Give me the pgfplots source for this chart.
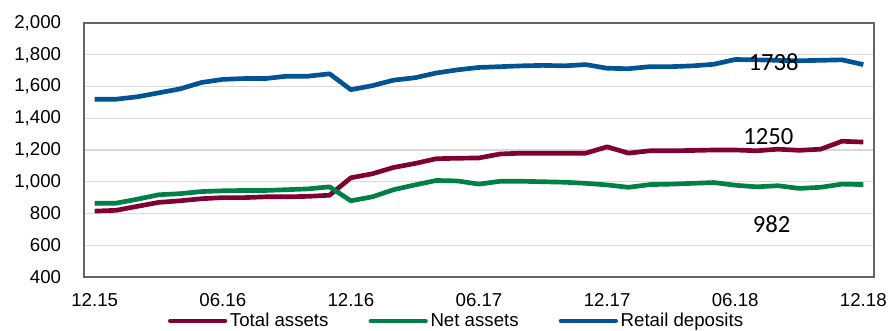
\documentclass[border=0pt]{standalone}
\usepackage{pgfplots}
\pgfplotsset{compat=1.18}
\usepackage{fontspec}
\setmainfont{Liberation Sans}
\newfontfamily\calibri{Carlito}
\definecolor{cTotal}{RGB}{128,0,50}
\definecolor{cNet}{RGB}{0,128,70}
\definecolor{cRetail}{RGB}{0,84,147}
\definecolor{cGrid}{RGB}{217,217,217}
\definecolor{cFrame}{RGB}{100,100,100}
\begin{document}
\begin{tikzpicture}
\useasboundingbox (-63pt,-40.5pt) rectangle (604.5pt,207.75pt);
\begin{axis}[
  at={(0,0)}, anchor=south west,
  scale only axis, width=592.5pt, height=190.5pt,
  xmin=-0.5, xmax=36.5, ymin=400, ymax=2000,
  xtick={0,6,...,36},
  xticklabels={12.15,06.16,12.16,06.17,12.17,06.18,12.18},
  ytick={400,600,...,2000},
  major tick length=0pt,
  ymajorgrids, grid style={cGrid, line width=1pt},
  axis line style={cFrame, line width=1.2pt},
  tick label style={font=\fontsize{14}{16}\selectfont},
  /pgf/number format/assume math mode=true,
  /pgf/number format/1000 sep={,},
  yticklabel style={anchor=east, inner sep=0pt, xshift=-17pt},
  xticklabel style={anchor=center, inner sep=0pt, yshift=-17pt},
  legend columns=3,
  legend style={draw=none, fill=none, at={(0.472,-0.173)}, anchor=center,
    font=\fontsize{14}{16}\selectfont, inner sep=0pt,
    /tikz/every even column/.append style={column sep=28pt}},
  legend image code/.code={\draw[#1, line cap=round] (0pt,0pt) -- (41pt,0pt);},
  every axis plot/.append style={line width=3.5pt, line join=round},
]
\addplot[cTotal] coordinates {
(0,815)(1,820)(2,845)(3,870)(4,880)(5,893)(6,900)(7,900)(8,905)(9,905)
(10,908)(11,915)(12,1025)(13,1050)(14,1090)(15,1115)(16,1145)(17,1148)(18,1150)(19,1175)
(20,1180)(21,1180)(22,1180)(23,1180)(24,1220)(25,1180)(26,1195)(27,1195)(28,1197)(29,1200)
(30,1200)(31,1195)(32,1205)(33,1198)(34,1205)(35,1255)(36,1250)};
\addlegendentry{Total assets}
\addplot[cNet] coordinates {
(0,865)(1,865)(2,890)(3,918)(4,925)(5,938)(6,943)(7,945)(8,945)(9,950)
(10,955)(11,968)(12,880)(13,905)(14,950)(15,980)(16,1008)(17,1005)(18,985)(19,1003)
(20,1003)(21,1000)(22,997)(23,990)(24,980)(25,965)(26,982)(27,985)(28,990)(29,995)
(30,978)(31,968)(32,975)(33,958)(34,965)(35,985)(36,982)};
\addlegendentry{Net assets}
\addplot[cRetail] coordinates {
(0,1520)(1,1520)(2,1535)(3,1560)(4,1585)(5,1625)(6,1645)(7,1650)(8,1650)(9,1665)
(10,1665)(11,1680)(12,1580)(13,1605)(14,1640)(15,1655)(16,1685)(17,1705)(18,1720)(19,1725)
(20,1730)(21,1733)(22,1730)(23,1738)(24,1715)(25,1712)(26,1725)(27,1725)(28,1730)(29,1740)
(30,1770)(31,1768)(32,1765)(33,1762)(34,1765)(35,1768)(36,1738)};
\addlegendentry{Retail deposits}
\node[font=\calibri\fontsize{18.5}{20}\selectfont] at (axis cs:31.8,1754) {1738};
\node[font=\calibri\fontsize{18.5}{20}\selectfont] at (axis cs:31.55,1282) {1250};
\node[font=\calibri\fontsize{18.5}{20}\selectfont] at (axis cs:31.7,734) {982};
\end{axis}
\end{tikzpicture}
\end{document}
